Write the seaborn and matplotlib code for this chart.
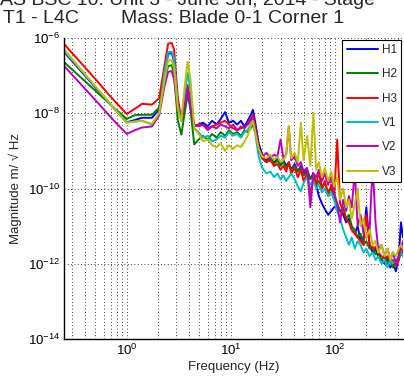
import numpy as np
import pandas as pd
import matplotlib
matplotlib.use("Agg")
import matplotlib.pyplot as plt
import matplotlib.ticker as mticker
import seaborn as sns

# ---------------- data ----------------
freq = [0.25, 0.35, 0.5, 0.7, 1.0, 1.2, 1.4, 1.75, 2.05, 2.3,
        2.5, 2.7, 2.85, 3.1, 3.35, 3.6, 3.85, 4.1, 4.45, 4.9,
        5.4, 6.0, 6.6, 7.3, 8.0, 8.8, 9.6, 10.5, 11.5, 12.5,
        13.5, 14.5, 15.5, 16.3, 17.3, 18.5, 20, 22, 24, 26,
        28, 30, 32, 34, 36, 38, 41, 44, 47, 50,
        54, 58, 62, 66, 70, 75, 80, 86, 92, 98,
        105, 112, 120, 128, 136, 145, 155, 165, 176, 188,
        200, 215, 230, 245, 260, 280, 300, 320, 340, 360,
        385, 410, 430, 450]

# log10 of magnitude (m/sqrt(Hz))
H1 = [-6.37, -6.83, -7.31, -7.77, -8.24, -8.18, -8.12, -8.12, -7.90, -6.95,
      -6.42, -6.40, -6.60, -7.80, -8.20, -7.80, -7.40, -7.80, -8.35, -8.30,
      -8.25, -8.35, -8.20, -8.30, -8.15, -7.97, -8.25, -8.20, -8.30, -8.20,
      -8.35, -8.20, -8.05, -7.91, -8.30, -8.80, -9.10, -9.25, -9.15, -9.30,
      -9.20, -9.35, -9.25, -9.40, -9.30, -9.50, -9.35, -9.55, -9.40, -9.60,
      -9.50, -9.75, -9.60, -9.90, -10.20, -10.40, -10.55, -10.70, -10.60, -10.50,
      -10.45, -10.60, -10.70, -10.90, -10.80, -11.10, -11.20, -11.00, -11.40, -11.30,
      -10.50, -11.50, -11.70, -11.60, -11.80, -11.90, -12.00, -11.85, -12.10, -12.00,
      -12.20, -11.80, -10.90, -11.30]

H2 = [-6.64, -7.01, -7.40, -7.77, -8.15, -8.05, -8.04, -8.04, -7.85, -7.10,
      -6.75, -6.72, -6.95, -8.20, -8.57, -8.00, -7.50, -7.90, -8.83, -8.70,
      -8.60, -8.70, -8.55, -8.65, -8.50, -8.60, -8.45, -8.55, -8.50, -8.60,
      -8.45, -8.50, -8.40, -8.30, -8.55, -8.95, -9.20, -9.30, -9.20, -9.35,
      -9.25, -9.40, -9.30, -9.45, -9.35, -9.50, -9.40, -9.55, -9.45, -9.65,
      -9.55, -9.75, -9.65, -9.90, -9.80, -10.00, -9.85, -10.10, -10.00, -10.25,
      -10.40, -10.60, -10.50, -10.80, -10.70, -11.00, -11.10, -11.30, -11.20, -11.50,
      -11.40, -11.60, -11.55, -11.75, -11.70, -11.90, -11.80, -12.00, -11.90, -12.10,
      -12.00, -11.90, -11.70, -11.80]

H3 = [-6.16, -6.61, -7.09, -7.56, -8.02, -7.88, -7.75, -7.77, -7.60, -6.75,
      -6.15, -6.13, -6.30, -7.60, -8.17, -7.70, -7.25, -7.70, -8.35, -8.30,
      -8.32, -8.40, -8.35, -8.30, -8.25, -8.20, -8.30, -8.40, -8.45, -8.40,
      -8.35, -8.30, -8.15, -8.05, -8.40, -8.90, -9.20, -9.30, -9.25, -9.40,
      -9.35, -9.50, -9.40, -9.55, -9.30, -9.60, -9.45, -9.70, -9.50, -9.80,
      -9.60, -10.15, -9.70, -9.90, -9.55, -10.00, -9.80, -10.20, -9.90, -10.30,
      -8.70, -10.40, -10.60, -10.80, -10.90, -11.10, -11.20, -11.30, -11.40, -11.50,
      -10.70, -11.50, -11.60, -11.55, -11.70, -11.80, -11.85, -11.80, -11.95, -11.90,
      -12.05, -11.90, -11.50, -11.70]

V1 = [-6.34, -6.80, -7.29, -7.76, -8.24, -8.22, -8.20, -8.30, -8.05, -6.90,
      -6.38, -6.36, -6.55, -7.80, -8.15, -7.50, -6.93, -7.40, -8.40, -8.50,
      -8.65, -8.60, -8.75, -8.70, -8.60, -8.65, -8.50, -8.60, -8.55, -8.65,
      -8.50, -8.45, -8.30, -8.20, -8.60, -9.15, -9.45, -9.60, -9.55, -9.70,
      -9.60, -9.75, -9.65, -9.80, -9.70, -9.60, -9.75, -9.95, -10.08, -9.85,
      -9.70, -9.90, -9.80, -10.00, -9.90, -10.10, -10.00, -10.20, -10.10, -10.30,
      -10.60, -10.80, -11.10, -11.30, -11.50, -11.30, -11.60, -11.40, -11.50, -11.70,
      -11.60, -11.80, -11.70, -11.90, -11.80, -12.00, -11.90, -12.10, -11.90, -12.00,
      -11.90, -11.80, -11.70, -11.80]

V2 = [-6.74, -7.18, -7.65, -8.10, -8.55, -8.45, -8.38, -8.35, -8.05, -7.30,
      -6.90, -6.88, -7.10, -7.90, -8.10, -7.80, -7.35, -7.85, -8.30, -8.35,
      -8.30, -8.45, -8.35, -8.40, -8.30, -8.35, -8.40, -8.30, -8.45, -8.35,
      -8.40, -8.30, -8.20, -8.12, -8.50, -8.95, -9.15, -9.05, -9.20, -9.10,
      -9.15, -8.70, -9.20, -9.10, -8.35, -9.25, -9.15, -9.40, -9.30, -9.55,
      -9.45, -10.50, -9.60, -9.70, -9.50, -9.80, -9.60, -9.90, -9.70, -10.10,
      -10.40, -10.90, -10.30, -10.60, -10.20, -10.50, -9.50, -11.00, -10.70, -11.20,
      -11.30, -11.10, -9.35, -10.90, -11.60, -11.50, -11.80, -11.60, -11.90, -11.70,
      -12.00, -11.80, -11.60, -11.40]

V3 = [-6.30, -6.78, -7.28, -7.76, -8.26, -8.22, -8.20, -8.28, -8.00, -7.15,
      -6.60, -6.58, -6.80, -7.90, -8.20, -7.30, -6.63, -7.10, -8.40, -8.55,
      -8.75, -8.70, -8.85, -8.90, -8.80, -9.00, -8.85, -8.95, -8.85, -8.90,
      -8.75, -8.60, -8.35, -8.20, -8.55, -8.95, -9.15, -9.20, -9.10, -9.25,
      -9.15, -9.30, -9.25, -9.10, -8.35, -9.20, -9.05, -9.30, -8.25, -9.25,
      -8.60, -9.40, -8.00, -9.50, -9.30, -9.70, -9.45, -9.80, -9.55, -9.95,
      -9.70, -10.30, -10.00, -10.50, -10.30, -10.80, -10.40, -10.00, -11.00, -10.80,
      -11.30, -11.10, -11.50, -11.40, -11.70, -11.50, -11.80, -11.60, -11.90, -11.70,
      -11.80, -11.60, -11.50, -11.60]

series_names = ["H1", "H2", "H3", "V1", "V2", "V3"]
series_vals = [H1, H2, H3, V1, V2, V3]
colors = ["#0000ff", "#008000", "#ff0000", "#00bfbf", "#bf00bf", "#bfbf00"]

title_line1 = "AS BSC 10: Unit 3 - June 5th, 2014 - Stage"
title_left = "T1 - L4C"
title_right = "Mass: Blade 0-1 Corner 1"
xlabel = "Frequency (Hz)"
ylabel = "Magnitude m/ \u221a Hz"

# ---------------- build long table ----------------
rows = []
for name, vals in zip(series_names, series_vals):
    for f, v in zip(freq, vals):
        rows.append({"freq": f, "mag": 10.0 ** v, "series": name})
df = pd.DataFrame(rows)

# ---------------- plot ----------------
sns.set_style("white")
plt.rcParams["font.family"] = ["Liberation Sans", "DejaVu Sans"]
plt.rcParams["mathtext.fontset"] = "custom"
plt.rcParams["mathtext.rm"] = "Liberation Sans"
plt.rcParams["mathtext.it"] = "Liberation Sans"

fig = plt.figure(figsize=(4.04, 3.87), dpi=100)
ax = fig.add_axes([64 / 404, 1 - 339 / 387, (403 - 64) / 404, (339 - 38) / 387])

sns.lineplot(data=df, x="freq", y="mag", hue="series", hue_order=series_names,
             palette=colors, estimator=None, linewidth=1.4, ax=ax, legend=True)

ax.set_xscale("log")
ax.set_yscale("log")
ax.set_xlim(0.25, 450)
ax.set_ylim(1e-14, 1e-6)

ax.set_yticks([1e-14, 1e-12, 1e-10, 1e-8, 1e-6])
ax.yaxis.set_minor_locator(mticker.NullLocator())
ax.yaxis.set_major_formatter(mticker.FuncFormatter(lambda v, p: r"$10^{%d}$" % round(np.log10(v))))
ax.set_xticks([1, 10, 100])
ax.xaxis.set_major_formatter(mticker.FuncFormatter(lambda v, p: r"$10^{%d}$" % round(np.log10(v))))
ax.xaxis.set_minor_locator(mticker.LogLocator(base=10, subs=np.arange(2, 10), numticks=20))
ax.xaxis.set_minor_formatter(mticker.NullFormatter())

ax.tick_params(axis="both", which="both", direction="in", labelsize=9.5, colors="black")
ax.tick_params(axis="both", which="major", length=4, pad=3)
ax.tick_params(axis="x", which="minor", length=2)

ax.grid(True, axis="x", which="both", linestyle=(0, (1, 3)), color="black", linewidth=0.6)
ax.grid(True, axis="y", which="major", linestyle=(0, (1, 3)), color="black", linewidth=0.6)

for s in ["top", "right"]:
    ax.spines[s].set_visible(False)
for s in ["left", "bottom"]:
    ax.spines[s].set_color("black")
    ax.spines[s].set_linewidth(1.0)

ax.set_xlabel(xlabel, fontsize=9.5, labelpad=2)
ax.set_ylabel(ylabel, fontsize=9.5, labelpad=4)

handles, labels = ax.get_legend_handles_labels()
leg = ax.legend(handles, labels, loc="upper right", fontsize=8.5, frameon=True,
                fancybox=False, edgecolor="black", framealpha=1, handlelength=2.7,
                labelspacing=1.05, borderaxespad=0.15, handletextpad=0.3,
                borderpad=0.35)
leg.get_frame().set_linewidth(0.8)
for line in leg.get_lines():
    line.set_linewidth(1.4)

fig.text(0.0, 1 - 5 / 387, title_line1, fontsize=14, ha="left", va="baseline")
fig.text(3 / 404, 1 - 23 / 387, title_left, fontsize=14, ha="left", va="baseline")
fig.text(121 / 404, 1 - 23 / 387, title_right, fontsize=14, ha="left", va="baseline")

fig.savefig("out.png", dpi=100)
